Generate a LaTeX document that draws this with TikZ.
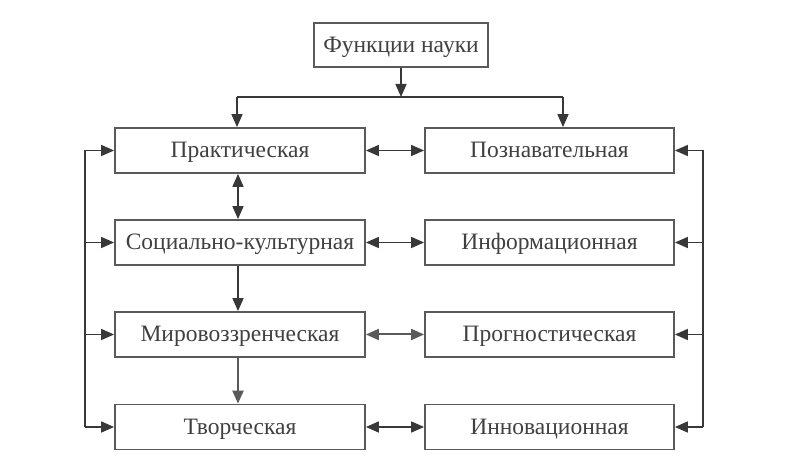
\documentclass[tikz,border=0pt]{standalone}
\usepackage{fontspec}
\setmainfont{Liberation Serif}
\usetikzlibrary{arrows.meta}
\definecolor{ink}{HTML}{383838}
\definecolor{frame}{HTML}{5A5A5A}
\definecolor{txt}{HTML}{404040}
\tikzset{
  box/.style={draw=frame, line width=1.8pt, fill=white, text=txt, font=\fontsize{23.5}{26}\selectfont, inner sep=0pt, text height=15pt, text depth=0pt},
  lbox/.style={box, minimum width=250pt, minimum height=45pt},
  rbox/.style={box, minimum width=249pt, minimum height=45pt},
  conn/.style={draw=ink, line width=1.5pt},
  tip/.style={-{Triangle[length=13pt,width=11pt]}},
  dtip/.style={{Triangle[length=13pt,width=11pt]}-{Triangle[length=13pt,width=11pt]}},
}
\begin{document}
\begin{tikzpicture}[x=1pt,y=-1pt]
\useasboundingbox[fill=white] (0,0) rectangle (796,470);
\node[box, minimum width=174pt, minimum height=44pt] (top) at (401,45) {Функции науки};
\node[lbox] (L1) at (240,150.5) {Практическая};
\node[lbox] (L2) at (240,242.5) {Социально-культурная};
\node[lbox] (L3) at (240,334.5) {Мировоззренческая};
\node[lbox] (L4) at (240,427) {Творческая};
\node[rbox] (R1) at (549.5,150.5) {Познавательная};
\node[rbox] (R2) at (549.5,242.5) {Информационная};
\node[rbox] (R3) at (549.5,334.5) {Прогностическая};
\node[rbox] (R4) at (549.5,427) {Инновационная};
% top split
\coordinate (split) at (401,97);
\coordinate (sl) at (237,97);
\coordinate (sr) at (563,97);
\draw[conn,tip] (top) -- (split);
\draw[conn] (sl) -- (sr);
\draw[conn,tip] (sl) -- (sl |- L1.north);
\draw[conn,tip] (sr) -- (sr |- R1.north);
% horizontal double arrows
\draw[conn,dtip] (L1) -- (R1);
\draw[conn,dtip] (L2) -- (R2);
\draw[conn,dtip,draw=frame,line width=2pt] (L3) -- (R3);
\draw[conn,dtip] (L4) -- (R4);
% vertical arrows on left
\coordinate (vx) at (238,0);
\draw[conn,dtip] (L1.south -| vx) -- (L2.north -| vx);
\draw[conn,tip] (L2.south -| vx) -- (L3.north -| vx);
\draw[conn,tip,draw=frame,line width=2.2pt] (L3.south -| vx) -- (L4.north -| vx);
% left bracket
\coordinate (bl1) at (85,150.5);
\coordinate (bl4) at (85,427);
\draw[conn] (bl1) -- (bl4);
\foreach \n in {L1,L2,L3,L4} \draw[conn,tip] (\n.west -| bl1) -- (\n.west);
% right bracket
\coordinate (br1) at (703,150.5);
\coordinate (br4) at (703,427);
\draw[conn] (br1) -- (br4);
\foreach \n in {R1,R2,R3,R4} \draw[conn,tip] (\n.east -| br1) -- (\n.east);
\end{tikzpicture}
\end{document}
